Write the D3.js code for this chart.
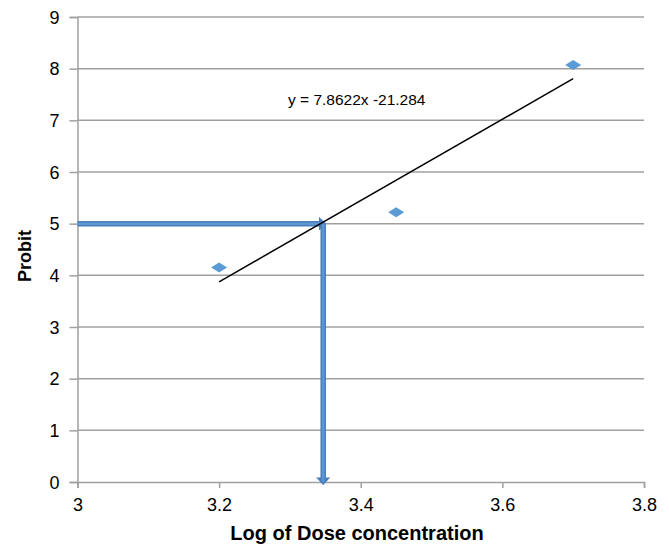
<!DOCTYPE html>
<html>
<head>
  <script src="https://d3js.org/d3.v7.min.js"></script>
  <style>
    body { margin: 0; background: #fff; }
    text { font-family: "Liberation Sans", Arial, sans-serif; }
    .tick text { font-size: 18px; fill: #000; }
  </style>
</head>
<body>
<script>
  // data
  var logDose = [3.2, 3.45, 3.7];
  var probit = [4.15, 5.22, 8.07];
  var slope = 7.8622, intercept = -21.284;
  var lc50Log = 3.347, targetProbit = 5;
  var xTicks = [3, 3.2, 3.4, 3.6, 3.8];
  var yTicks = [0, 1, 2, 3, 4, 5, 6, 7, 8, 9];

  var W = 669, H = 545;
  var svg = d3.select("body").append("svg").attr("width", W).attr("height", H);

  var x = d3.scaleLinear().domain([3, 3.8]).range([77.5, 644]);
  var y = d3.scaleLinear().domain([0, 9]).range([482, 17]);

  // horizontal grid lines
  svg.append("g")
    .selectAll("line")
    .data(yTicks.filter(function(d) { return d > 0; }))
    .enter().append("line")
    .attr("x1", x(3)).attr("x2", x(3.8))
    .attr("y1", function(d) { return y(d); })
    .attr("y2", function(d) { return y(d); })
    .attr("stroke", "#a0a0a0").attr("stroke-width", 1.5);

  var yAxis = svg.append("g")
    .attr("transform", "translate(" + x(3) + ",0)")
    .call(d3.axisLeft(y).tickValues(yTicks).tickSize(8).tickPadding(10).tickFormat(d3.format("d")));
  var xAxis = svg.append("g")
    .attr("transform", "translate(0," + y(0) + ")")
    .call(d3.axisBottom(x).tickValues(xTicks).tickSize(6).tickPadding(10).tickFormat(function(d) { return d; }));
  [xAxis, yAxis].forEach(function(a) {
    a.select(".domain").attr("stroke", "#a0a0a0").attr("stroke-width", 1.5);
    a.selectAll(".tick line").attr("stroke", "#a0a0a0").attr("stroke-width", 1.5);
  });
  yAxis.selectAll(".tick text").attr("dy", "0.35em");

  // axis titles
  svg.append("text")
    .attr("x", 357).attr("y", 540)
    .attr("text-anchor", "middle")
    .style("font-size", "20px").style("font-weight", "bold")
    .text("Log of Dose concentration");
  svg.append("text")
    .attr("transform", "translate(31,256) rotate(-90)")
    .attr("text-anchor", "middle")
    .style("font-size", "18px").style("font-weight", "bold")
    .text("Probit");

  // arrows
  var arrowColor = "#4a7ebb";
  var defs = svg.append("defs");
  defs.append("marker")
    .attr("id", "arr")
    .attr("viewBox", "0 0 10 10")
    .attr("preserveAspectRatio", "none")
    .attr("refX", 6).attr("refY", 5)
    .attr("markerWidth", 1.4).attr("markerHeight", 2.6)
    .attr("markerUnits", "strokeWidth")
    .attr("orient", "auto")
    .append("path").attr("d", "M0,0 L10,5 L0,10 z").attr("fill", arrowColor);

  var arrows = [
    [[3, targetProbit], [lc50Log, targetProbit]],
    [[lc50Log, targetProbit], [lc50Log, 0]]
  ];
  arrows.forEach(function(a) {
    svg.append("line")
      .attr("x1", x(a[0][0])).attr("y1", y(a[0][1]))
      .attr("x2", x(a[1][0])).attr("y2", y(a[1][1]))
      .attr("stroke", arrowColor).attr("stroke-width", 5.5)
      .attr("marker-end", "url(#arr)");
    svg.append("line")
      .attr("x1", x(a[0][0])).attr("y1", y(a[0][1]))
      .attr("x2", x(a[1][0])).attr("y2", y(a[1][1]))
      .attr("stroke", "#5b97d3").attr("stroke-width", 2.5);
  });

  // trend line
  var x0 = d3.min(logDose), x1 = d3.max(logDose);
  svg.append("line")
    .attr("x1", x(x0)).attr("y1", y(slope * x0 + intercept))
    .attr("x2", x(x1)).attr("y2", y(slope * x1 + intercept))
    .attr("stroke", "#000").attr("stroke-width", 1.5);

  svg.append("text")
    .attr("x", 288).attr("y", 105)
    .style("font-size", "15.5px")
    .text("y = " + slope + "x " + intercept);

  // points
  svg.append("g").selectAll("path")
    .data(logDose)
    .enter().append("path")
    .attr("d", function(d, i) {
      var cx = x(d), cy = y(probit[i]);
      return "M" + (cx - 8) + "," + cy + "L" + cx + "," + (cy - 5) + "L" + (cx + 8) + "," + cy + "L" + cx + "," + (cy + 5) + "Z";
    })
    .attr("fill", "#5b9bd5");
</script>
</body>
</html>
